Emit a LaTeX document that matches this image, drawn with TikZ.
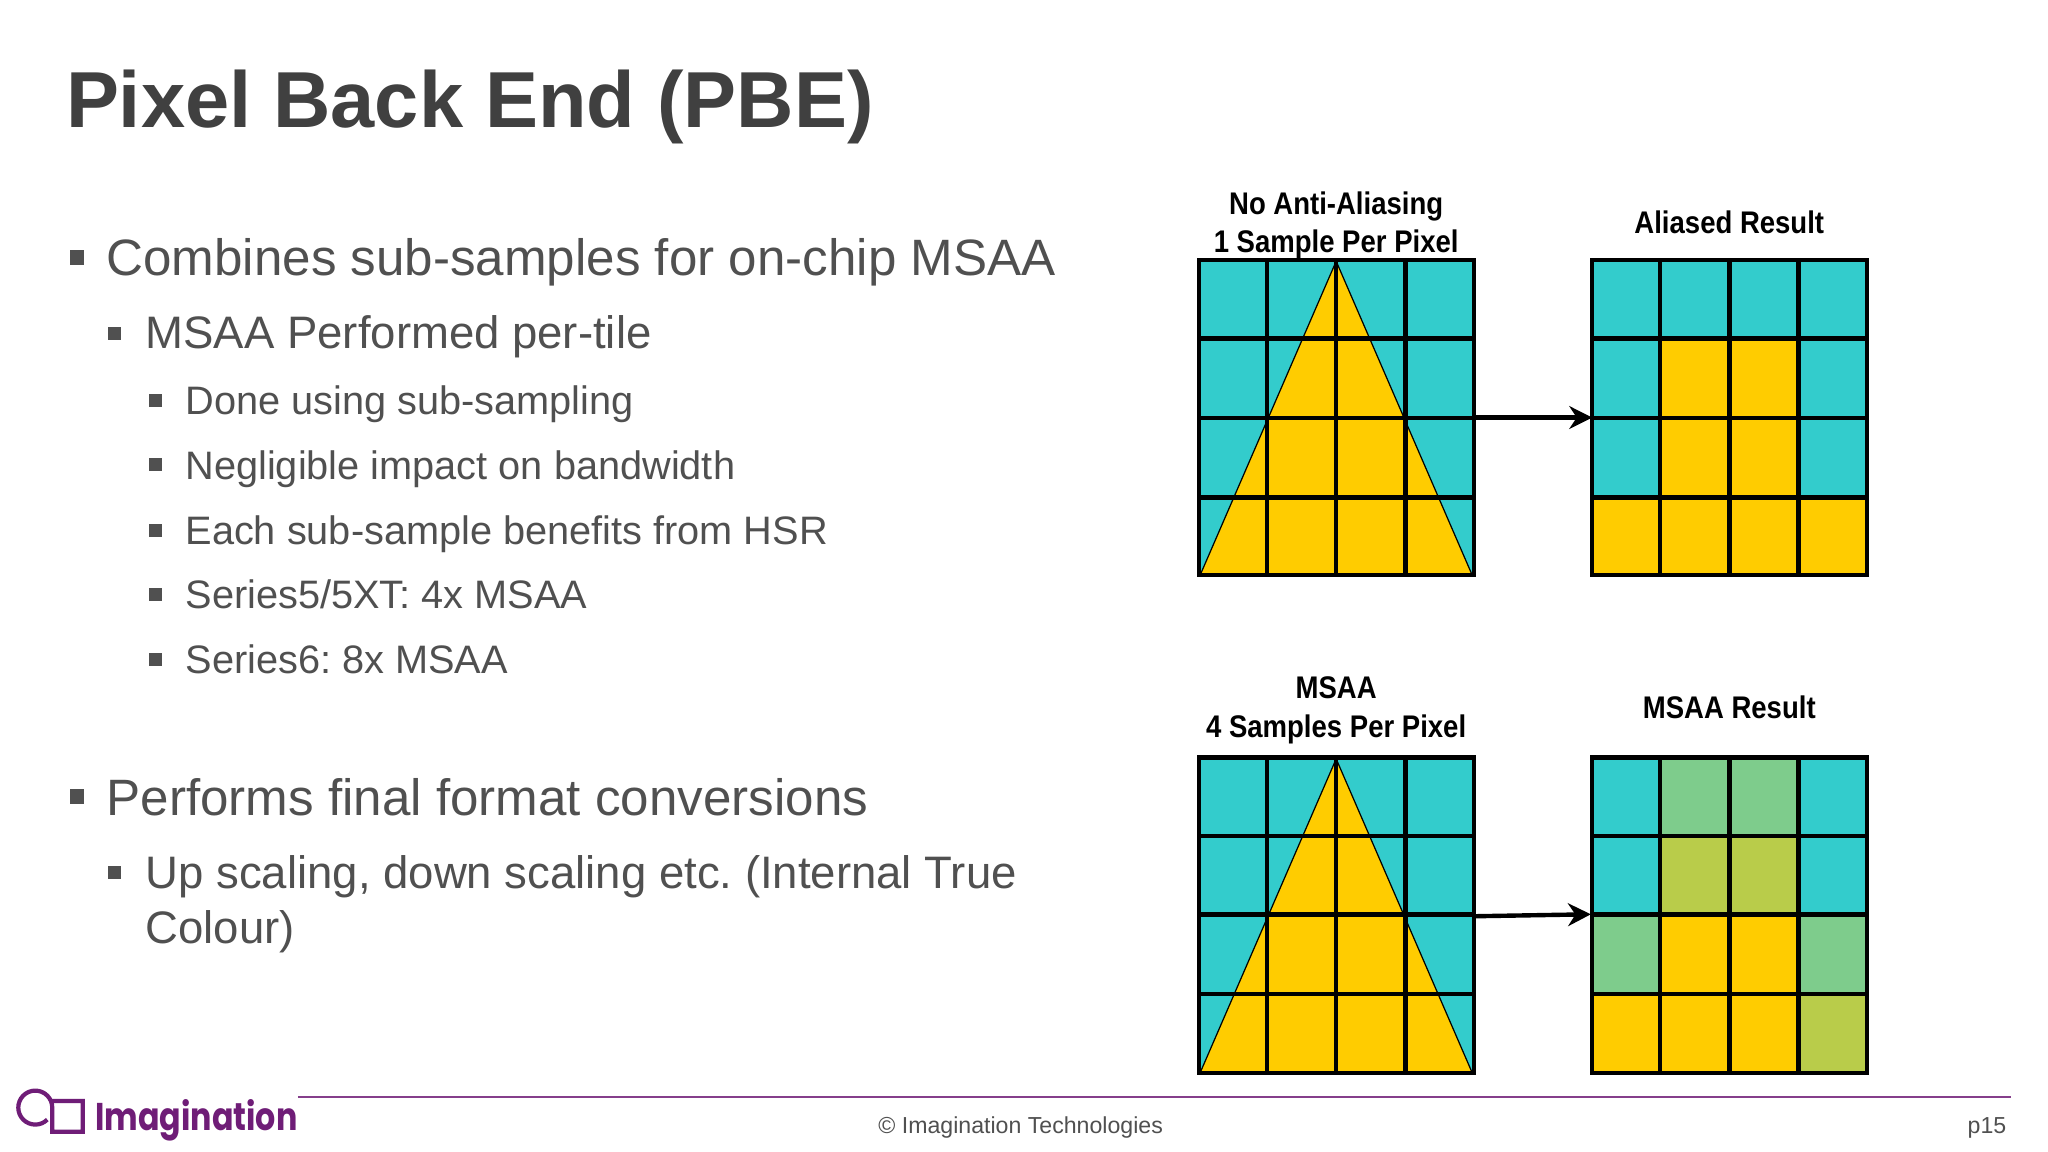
\documentclass[tikz,border=0pt]{standalone}
\usepackage{fontspec}
\setmainfont{Liberation Sans}
\newfontfamily\lblfont[FakeStretch=0.88]{Liberation Sans}
\newfontfamily\logofont[FakeStretch=0.82]{Poppins}
\usetikzlibrary{arrows.meta}
\definecolor{bodygrey}{HTML}{505050}
\definecolor{titlegrey}{HTML}{404040}
\definecolor{teal}{HTML}{33CCCC}
\definecolor{amber}{HTML}{FFCC00}
\definecolor{mixgreen}{HTML}{7ECC8C}
\definecolor{mixolive}{HTML}{B9CC4A}
\definecolor{logopurple}{HTML}{6F1D77}
\tikzset{
  x=0.01306cm,y=-0.01306cm,
  titletext/.style={anchor=base west,inner sep=0,text=titlegrey,font=\fontsize{22.6pt}{27pt}\selectfont\bfseries},
  lone/.style={anchor=base west,inner sep=0,text=bodygrey,font=\fontsize{14.55pt}{17pt}\selectfont},
  ltwo/.style={anchor=base west,inner sep=0,text=bodygrey,font=\fontsize{12.95pt}{15pt}\selectfont},
  lthree/.style={anchor=base west,inner sep=0,text=bodygrey,font=\fontsize{11.3pt}{14pt}\selectfont},
  footer/.style={anchor=base west,inner sep=0,text=bodygrey,font=\fontsize{6.58pt}{8pt}\selectfont},
  bulletmark/.style={fill=bodygrey,draw=none,inner sep=0,minimum size=4.2pt},
  smallbullet/.style={fill=bodygrey,draw=none,inner sep=0,minimum size=3.7pt},
  lbl/.style={anchor=base,inner sep=0,text=black,font=\lblfont\bfseries\fontsize{8.9pt}{11pt}\selectfont},
  gridbox/.style={draw=black,line width=1.3pt,minimum width=78.2pt,minimum height=89.7pt,inner sep=0,outer sep=0,anchor=north west},
  gridline/.style={draw=black,line width=1.3pt},
  flow/.style={draw=black,line width=1.25pt,-{Stealth[length=6.5pt,width=6.5pt]}},
}
\begin{document}
\frenchspacing
\begin{tikzpicture}
\useasboundingbox (0,0) rectangle (1568,882);
\fill[white] (0,0) rectangle (1568,882);
% title
\node[titletext] (title) at (50,98) {Pixel Back End (PBE)};
% bullets
\node[bulletmark] (b1) at (59,197) {};
\node[lone] (t1) at (81,211) {Combines sub-samples for on-chip MSAA};
\node[smallbullet] (b2) at (88,255) {};
\node[ltwo] (t2) at (111,267) {MSAA Performed per-tile};
\node[smallbullet] (b3) at (119,307) {};
\node[lthree] (t3) at (141.5,317) {Done using sub-sampling};
\node[smallbullet] (b4) at (119,356) {};
\node[lthree] (t4) at (141.5,367) {Negligible impact on bandwidth};
\node[smallbullet] (b5) at (119,406) {};
\node[lthree] (t5) at (141.5,416.5) {Each sub-sample benefits from HSR};
\node[smallbullet] (b6) at (119,455) {};
\node[lthree] (t6) at (141.5,466) {Series5/5XT: 4x MSAA};
\node[smallbullet] (b7) at (119,505) {};
\node[lthree] (t7) at (141.5,516) {Series6: 8x MSAA};
\node[bulletmark] (b8) at (59,610) {};
\node[lone] (t8) at (81,624) {Performs final format conversions};
\node[smallbullet] (b9) at (88,668) {};
\node[ltwo] (t9) at (111,680) {Up scaling, down scaling etc. (Internal True};
\node[ltwo] (t10) at (111,722) {Colour)};
% upper left
\fill[teal] (918,199) rectangle (1128,440);
\fill[amber] (1023,200) -- (1127,440) -- (919,440) -- cycle;
\draw[black,line width=0.35pt] (1023,200) -- (1127,440) -- (919,440) -- cycle;
\foreach \x in {970,1023,1076} \draw[gridline] (\x,199) -- (\x,440);
\foreach \y in {259,320,381} \draw[gridline] (918,\y) -- (1128,\y);
\node[gridbox] (g1) at (918,199) {};
% upper right
\fill[teal] (1219,199) rectangle (1429,440);
\fill[amber] (1271,259) rectangle (1377,381);
\fill[amber] (1219,381) rectangle (1429,440);
\foreach \x in {1271,1324,1377} \draw[gridline] (\x,199) -- (\x,440);
\foreach \y in {259,320,381} \draw[gridline] (1219,\y) -- (1429,\y);
\node[gridbox] (g2) at (1219,199) {};
% lower left
\fill[teal] (918,580) rectangle (1128,821);
\fill[amber] (1023,581) -- (1127,821) -- (919,821) -- cycle;
\draw[black,line width=0.35pt] (1023,581) -- (1127,821) -- (919,821) -- cycle;
\foreach \x in {970,1023,1076} \draw[gridline] (\x,580) -- (\x,821);
\foreach \y in {640,700,761} \draw[gridline] (918,\y) -- (1128,\y);
\node[gridbox] (g3) at (918,580) {};
% lower right
\fill[teal] (1219,580) rectangle (1429,821);
\fill[mixgreen] (1271,580) rectangle (1377,640);
\fill[mixolive] (1271,640) rectangle (1377,700);
\fill[mixgreen] (1219,700) rectangle (1271,761);
\fill[amber] (1271,700) rectangle (1377,761);
\fill[mixgreen] (1377,700) rectangle (1429,761);
\fill[amber] (1219,761) rectangle (1377,821);
\fill[mixolive] (1377,761) rectangle (1429,821);
\foreach \x in {1271,1324,1377} \draw[gridline] (\x,580) -- (\x,821);
\foreach \y in {640,700,761} \draw[gridline] (1219,\y) -- (1429,\y);
\node[gridbox] (g4) at (1219,580) {};
% labels
\node[lbl] (l1) at (1023,164) {No Anti-Aliasing};
\node[lbl] (l2) at (1023,193) {1 Sample Per Pixel};
\node[lbl] (l3) at (1324,179) {Aliased Result};
\node[lbl] (l4) at (1023,535) {MSAA};
\node[lbl] (l5) at (1023,565) {4 Samples Per Pixel};
\node[lbl] (l6) at (1324,550) {MSAA Result};
% connectors
\draw[flow] (g1.east) -- (g2.west);
\coordinate (a3) at (1129,701.5);
\coordinate (a4) at (1218,700);
\draw[flow] (a3) -- (a4);
% footer
\coordinate (r1) at (228,840);
\coordinate (r2) at (1540,840);
\draw[logopurple!85,line width=0.4pt] (r1) -- (r2);
\node[footer] (f1) at (672,868) {© Imagination Technologies};
\node[footer] (f2) at (1506,868) {p15};
% logo
\draw[logopurple,line width=1.2pt,line join=miter] (36.2,857.2) arc[start angle=45,end angle=360,radius=13] -- (40,866.5) -- (63.4,866.5) -- (63.4,843) -- (40,843);
\node[anchor=base west,inner sep=0,text=logopurple,font=\logofont\fontsize{11pt}{13pt}\selectfont\bfseries] (logo) at (72.5,865.3) {Imagination};
\end{tikzpicture}
\end{document}
